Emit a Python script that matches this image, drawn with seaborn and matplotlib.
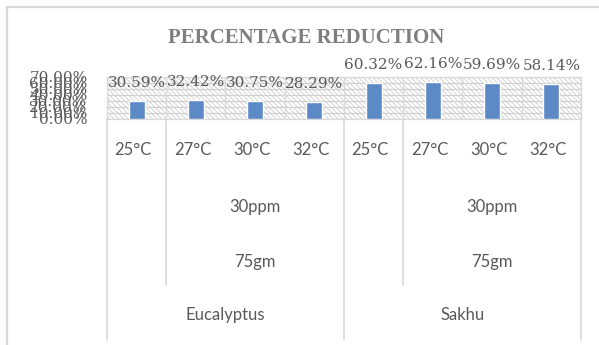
import matplotlib
matplotlib.use("Agg")
import matplotlib.pyplot as plt
import seaborn as sns
import pandas as pd
from matplotlib.patches import Rectangle
from matplotlib.lines import Line2D
from matplotlib.transforms import blended_transform_factory

# ---- data ----
temps = ["25°C", "27°C", "30°C", "32°C", "25°C", "27°C", "30°C", "32°C"]
species = ["Eucalyptus", "Sakhu"]
concentration = ["30ppm", "30ppm"]
mass = ["75gm", "75gm"]
values = [30.59, 32.42, 30.75, 28.29, 60.32, 62.16, 59.69, 58.14]
yticks = [0, 10, 20, 30, 40, 50, 60, 70]
title = "PERCENTAGE REDUCTION"

sns.set_style("white")
plt.rcParams["hatch.linewidth"] = 0.5

W, H = 599, 345
fig = plt.figure(figsize=(W / 100, H / 100), dpi=100)
fig.patch.set_facecolor("white")
ax = fig.add_axes([107 / W, 1 - 119 / H, 474 / W, 42 / H])

df = pd.DataFrame({"pos": list(range(len(values))), "value": values})
sns.barplot(data=df, x="pos", y="value", color="#5b8ac6", saturation=1,
            width=0.27, ax=ax, zorder=3)

ax.set_xlim(-0.5, len(values) - 0.5)
ax.set_ylim(0, 70)

# hatched plot-area background
bg = Rectangle((0, 0), 1, 1, transform=ax.transAxes, facecolor="white",
               edgecolor="#c4c4c4", hatch="\\" * 7, lw=0, zorder=0)
ax.add_patch(bg)

# gridlines
for v in yticks:
    ax.axhline(v, color="#d0d0d0", lw=0.9, zorder=1)
for b in range(len(values) + 1):
    ax.axvline(b - 0.5, color="#d9d9d9", lw=0.9, zorder=1)
for s in ax.spines.values():
    s.set_color("#d9d9d9")
    s.set_linewidth(0.9)

ax.set_xticks([])
ax.set_xlabel("")
ax.set_ylabel("")
ax.set_yticks(yticks)
ax.set_yticklabels([f"{v:.2f}%" for v in yticks], fontsize=11,
                   fontfamily="DejaVu Serif", color="#595959")
ax.tick_params(axis="y", length=0, pad=14)

# data labels
for i, v in enumerate(values):
    ax.annotate(f"{v:.2f}%", (i, v), xytext=(0, 10), textcoords="offset points",
                ha="center", va="baseline", fontsize=11, fontfamily="DejaVu Serif",
                color="#595959", annotation_clip=False)

# multi-level category axis
bt = blended_transform_factory(ax.transData, fig.transFigure)
def fy(y):
    return 1 - y / H

lab_kw = dict(fontsize=12, fontfamily="Lato", color="#595959",
              ha="center", va="center", transform=bt)
for i, t in enumerate(temps):
    fig.text(i - 0.06, fy(150), t, **lab_kw)
for g in range(2):
    start = g * 4
    fig.text(start + 2, fy(207), concentration[g], **lab_kw)
    fig.text(start + 2, fy(262), mass[g], **lab_kw)
    fig.text(start + 1.5, fy(315), species[g], **lab_kw)

line_kw = dict(color="#d9d9d9", lw=1.2, transform=bt, clip_on=False)
for xb in [-0.5, 3.5, 7.5]:
    fig.add_artist(Line2D([xb, xb], [fy(119), fy(340)], **line_kw))
for xb in [0.5, 4.5]:
    fig.add_artist(Line2D([xb, xb], [fy(119), fy(285)], **line_kw))

# chart border (top & left visible)
fig.add_artist(Line2D([7 / W, 1], [fy(7), fy(7)], color="#d9d9d9", lw=1.6,
                      transform=fig.transFigure))
fig.add_artist(Line2D([7 / W, 7 / W], [fy(7), 0], color="#d9d9d9", lw=1.6,
                      transform=fig.transFigure))

fig.text(306 / W, fy(38), title, fontsize=15, fontfamily="Liberation Serif",
         fontweight="bold", color="#7f7f7f", ha="center", va="center")

fig.savefig("out.png", dpi=100, facecolor="white")
